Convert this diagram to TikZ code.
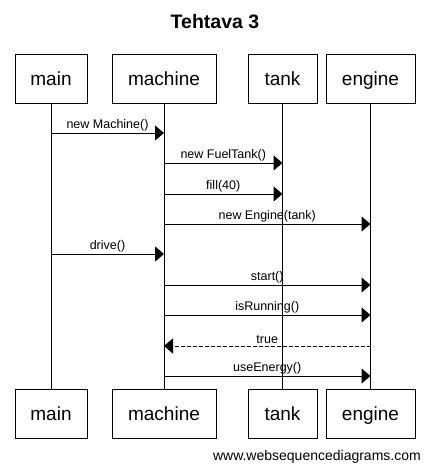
\documentclass[tikz,border=0pt]{standalone}
\usepackage{fontspec}
\setmainfont{Liberation Sans}
\usetikzlibrary{arrows.meta}
\tikzset{actor/.style={draw, line width=1pt, minimum height=49pt, inner sep=0pt,
                       text height=17pt, text depth=4pt,
                       font=\fontsize{19}{22}\selectfont},
         lifeline/.style={line width=1pt},
         msg/.style={line width=1pt, -{Triangle[length=9pt,width=15pt]}},
         reply/.style={msg, dash pattern=on 4pt off 2pt},
         msglabel/.style={above, inner sep=1.5pt, font=\fontsize{12.5}{14}\selectfont}}

\begin{document}
\begin{tikzpicture}[x=1pt,y=-1pt]
    \useasboundingbox (0,0) rectangle (430,472);

    \node[font=\bfseries\fontsize{19.5}{22}\selectfont] (title) at (215,22) {Tehtava 3};

    % actors, top and bottom, with their lifelines
    \foreach \name/\x/\w in {main/51/72, machine/164/104, tank/282.5/69, engine/370.5/89} {
        \node[actor, minimum width=\w pt] (\name T) at (\x,78.5) {\name};
        \node[actor, minimum width=\w pt] (\name B) at (\x,413.5) {\name};
        \draw[lifeline] (\name T) -- (\name B);
    }

    % messages
    \foreach \from/\to/\y/\txt in {main/machine/133/new Machine(),
                                   machine/tank/163/new FuelTank(),
                                   machine/tank/194/fill(40),
                                   machine/engine/224/new Engine(tank),
                                   main/machine/254/drive(),
                                   machine/engine/285/start(),
                                   machine/engine/315/isRunning()} {
        \draw[msg] (\from T |- 0,\y) -- node[msglabel] {\txt} (\to T |- 0,\y);
    }
    \draw[reply] (engineT |- 0,346) -- node[msglabel] {true} (machineT |- 0,346);
    \draw[msg] (machineT |- 0,376) -- node[msglabel] {useEnergy()} (engineT |- 0,376);

    \node[anchor=east, inner sep=0pt, font=\fontsize{14}{16}\selectfont] (credit) at (421,457) {www.websequencediagrams.com};
\end{tikzpicture}
\end{document}
